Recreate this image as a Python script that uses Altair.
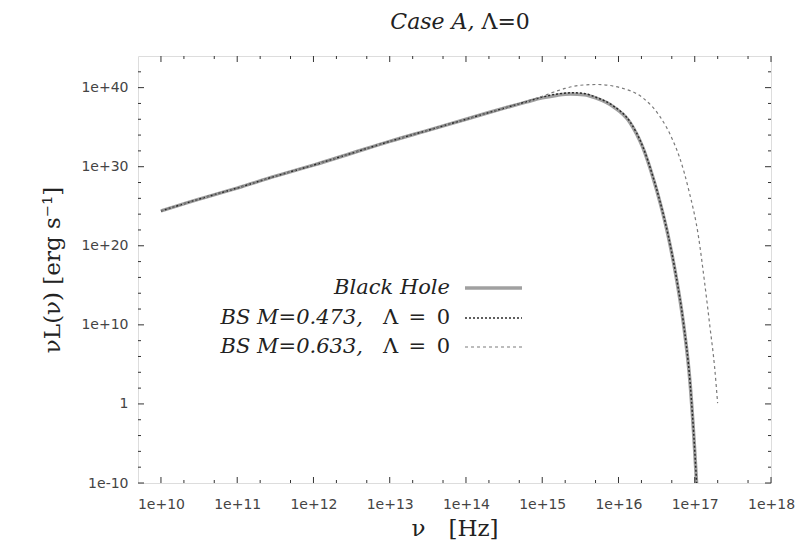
import altair as alt
import pandas as pd

# ---- data (log10 values) ----
bh_lognu = [10.0, 10.5, 11.0, 11.5, 12.0, 12.5, 13.0, 13.5, 14.0, 14.3, 14.5, 14.8,
            15.0, 15.2, 15.37, 15.55, 15.7, 15.93, 16.15, 16.32, 16.45, 16.55, 16.65,
            16.75, 16.85, 16.94, 17.0, 17.03]
bh_loglum = [24.4, 25.9, 27.3, 28.8, 30.2, 31.7, 33.2, 34.6, 36.0, 36.85, 37.4, 38.2,
             38.7, 39.05, 39.2, 39.1, 38.7, 37.6, 35.6, 32.4, 28.7, 25.3, 21.3,
             16.4, 10.3, 2.5, -6.0, -11.0]

bs473_lognu = [10.0, 10.5, 11.0, 11.5, 12.0, 12.5, 13.0, 13.5, 14.0, 14.3, 14.5, 14.8,
               15.0, 15.2, 15.4, 15.55, 15.7, 15.93, 16.15, 16.32, 16.45, 16.55, 16.65,
               16.75, 16.85, 16.94, 17.0, 17.03]
bs473_loglum = [24.4, 25.9, 27.3, 28.8, 30.2, 31.7, 33.2, 34.6, 36.0, 36.85, 37.4, 38.25,
                38.8, 39.2, 39.35, 39.25, 38.8, 37.7, 35.7, 32.5, 28.8, 25.4, 21.4,
                16.5, 10.4, 2.6, -5.9, -11.0]

bs633_lognu = [10.0, 10.5, 11.0, 11.5, 12.0, 12.5, 13.0, 13.5, 14.0, 14.3, 14.5, 14.8,
               15.0, 15.14, 15.3, 15.5, 15.72, 16.02, 16.32, 16.54, 16.71, 16.8, 16.92,
               17.05, 17.13, 17.2, 17.26, 17.3]
bs633_loglum = [24.4, 25.9, 27.3, 28.8, 30.2, 31.7, 33.2, 34.6, 36.0, 36.85, 37.4, 38.3,
                38.9, 39.4, 39.9, 40.3, 40.4, 40.0, 38.7, 36.4, 33.4, 31.2, 27.1,
                21.1, 15.3, 9.7, 4.7, 0.1]

series_names = ["Black Hole", "BS M=0.473, Λ = 0", "BS M=0.633, Λ = 0"]

x_major = [1e10, 1e11, 1e12, 1e13, 1e14, 1e15, 1e16, 1e17, 1e18]
y_major = [1e-10, 1, 1e10, 1e20, 1e30, 1e40]

# ---- layout ----
W, H = 633, 427
x_dom = [5e9, 1e18]
y_dom = [1e-10, 1e44]

rows = []
for name, lx, ly in zip(series_names,
                        [bh_lognu, bs473_lognu, bs633_lognu],
                        [bh_loglum, bs473_loglum, bs633_loglum]):
    for i, (a, b) in enumerate(zip(lx, ly)):
        rows.append({"series": name, "order": i, "nu": 10 ** a, "lum": 10 ** b})
df = pd.DataFrame(rows)

xscale = alt.Scale(type="log", domain=x_dom, nice=False)
yscale = alt.Scale(type="log", domain=y_dom, nice=False)

label_font = "DejaVu Sans"
serif = "DejaVu Serif"
lab_expr = "datum.value == 1 ? '1' : format(datum.value, '.0e')"

xaxis = alt.Axis(values=x_major, labelExpr=lab_expr, ticks=False, domain=False,
                 grid=False, labelFont=label_font, labelFontSize=14, labelFlush=False,
                 labelColor="#444", labelPadding=14, title="ν\u2003[Hz]",
                 titleFont=serif, titleFontSize=23, titleFontWeight="normal",
                 titleColor="#222", titlePadding=6)
yaxis = alt.Axis(values=y_major, labelExpr=lab_expr, ticks=False, domain=False,
                 grid=False, labelFont=label_font, labelFontSize=14, labelFlush=False,
                 labelColor="#444", labelPadding=10,
                 title="νL(ν) [erg s⁻¹]", titleFont=serif, titleFontSize=23,
                 titleFontWeight="normal", titleColor="#222", titlePadding=16)

styles = {
    "Black Hole": dict(color="#a0a0a0", strokeWidth=3.5),
    "BS M=0.473, Λ = 0": dict(color="#2a2a2a", strokeWidth=1.5, strokeDash=[2, 2]),
    "BS M=0.633, Λ = 0": dict(color="#7a7a7a", strokeWidth=1.2, strokeDash=[3, 3]),
}

layers = []
for name in series_names:
    sub = df[df.series == name]
    layers.append(alt.Chart(sub).mark_line(clip=True, interpolate="monotone",
                                           **styles[name]).encode(
        x=alt.X("nu:Q", scale=xscale, axis=xaxis),
        y=alt.Y("lum:Q", scale=yscale, axis=yaxis),
        order="order:Q"))

# ---- inward ticks (gnuplot style, mirrored) ----
x_minor = [m * 10 ** k for k in range(10, 18) for m in (2, 5)]
y_minor = [10.0 ** e for e in range(-8, 44, 2) if e % 10 != 0]
tick_color = "#333"
for vals, ln in ((x_major, 6), (x_minor, 3)):
    tdf = pd.DataFrame({"nu": vals})
    base = alt.Chart(tdf).mark_rule(color=tick_color, strokeWidth=1)
    layers.append(base.encode(x=alt.X("nu:Q", scale=xscale, axis=xaxis),
                              y=alt.value(H), y2=alt.value(H - ln)))
    layers.append(base.encode(x=alt.X("nu:Q", scale=xscale, axis=xaxis),
                              y=alt.value(0), y2=alt.value(ln)))
for vals, ln in ((y_major, 6), (y_minor, 3)):
    tdf = pd.DataFrame({"lum": vals})
    base = alt.Chart(tdf).mark_rule(color=tick_color, strokeWidth=1)
    layers.append(base.encode(y=alt.Y("lum:Q", scale=yscale, axis=yaxis),
                              x=alt.value(0), x2=alt.value(ln)))
    layers.append(base.encode(y=alt.Y("lum:Q", scale=yscale, axis=yaxis),
                              x=alt.value(W), x2=alt.value(W - ln)))

# ---- legend (inside plot, labels right-aligned, samples to the right) ----
leg_x_text = 312
leg_x_ital = 225
leg_x0, leg_x1 = 327, 384
leg_ys = [232, 262, 291]
leg_parts = [("Black Hole", ""), ("BS M=0.473,", "Λ\u2002=\u20020"), ("BS M=0.633,", "Λ\u2002=\u20020")]
for name, (ital, upr), yy in zip(series_names, leg_parts, leg_ys):
    if upr:
        layers.append(alt.Chart(pd.DataFrame({"t": [upr]})).mark_text(
            align="right", baseline="middle", font=serif, fontSize=21, color="#222").encode(
            text="t:N", x=alt.value(leg_x_text), y=alt.value(yy)))
        layers.append(alt.Chart(pd.DataFrame({"t": [ital]})).mark_text(
            align="right", baseline="middle", font=serif, fontSize=21, fontStyle="italic",
            color="#222").encode(text="t:N", x=alt.value(leg_x_ital), y=alt.value(yy)))
    else:
        layers.append(alt.Chart(pd.DataFrame({"t": [ital]})).mark_text(
            align="right", baseline="middle", font=serif, fontSize=21, fontStyle="italic",
            color="#222").encode(text="t:N", x=alt.value(leg_x_text), y=alt.value(yy)))
    layers.append(alt.Chart(pd.DataFrame({"s": [name]})).mark_rule(**styles[name]).encode(
        x=alt.value(leg_x0), x2=alt.value(leg_x1), y=alt.value(yy)))

# ---- title ----
layers.append(alt.Chart(pd.DataFrame({"t": ["Case A,"]})).mark_text(
    align="right", baseline="middle", font=serif, fontSize=22, fontStyle="italic",
    color="#222").encode(text="t:N", x=alt.value(W / 2 + 20), y=alt.value(-34)))
layers.append(alt.Chart(pd.DataFrame({"t": ["Λ=0"]})).mark_text(
    align="left", baseline="middle", font=serif, fontSize=22, color="#222").encode(
    text="t:N", x=alt.value(W / 2 + 27), y=alt.value(-34)))

chart = alt.layer(*layers).properties(
    width=W, height=H,
    autosize=alt.AutoSizeParams(type="none"),
    padding={"left": 130, "top": 48, "right": 27, "bottom": 62},
).configure_view(stroke="#333", strokeWidth=1.5).configure(background="white")

chart.save("out.html", embed_options={"renderer": "svg", "actions": False})
